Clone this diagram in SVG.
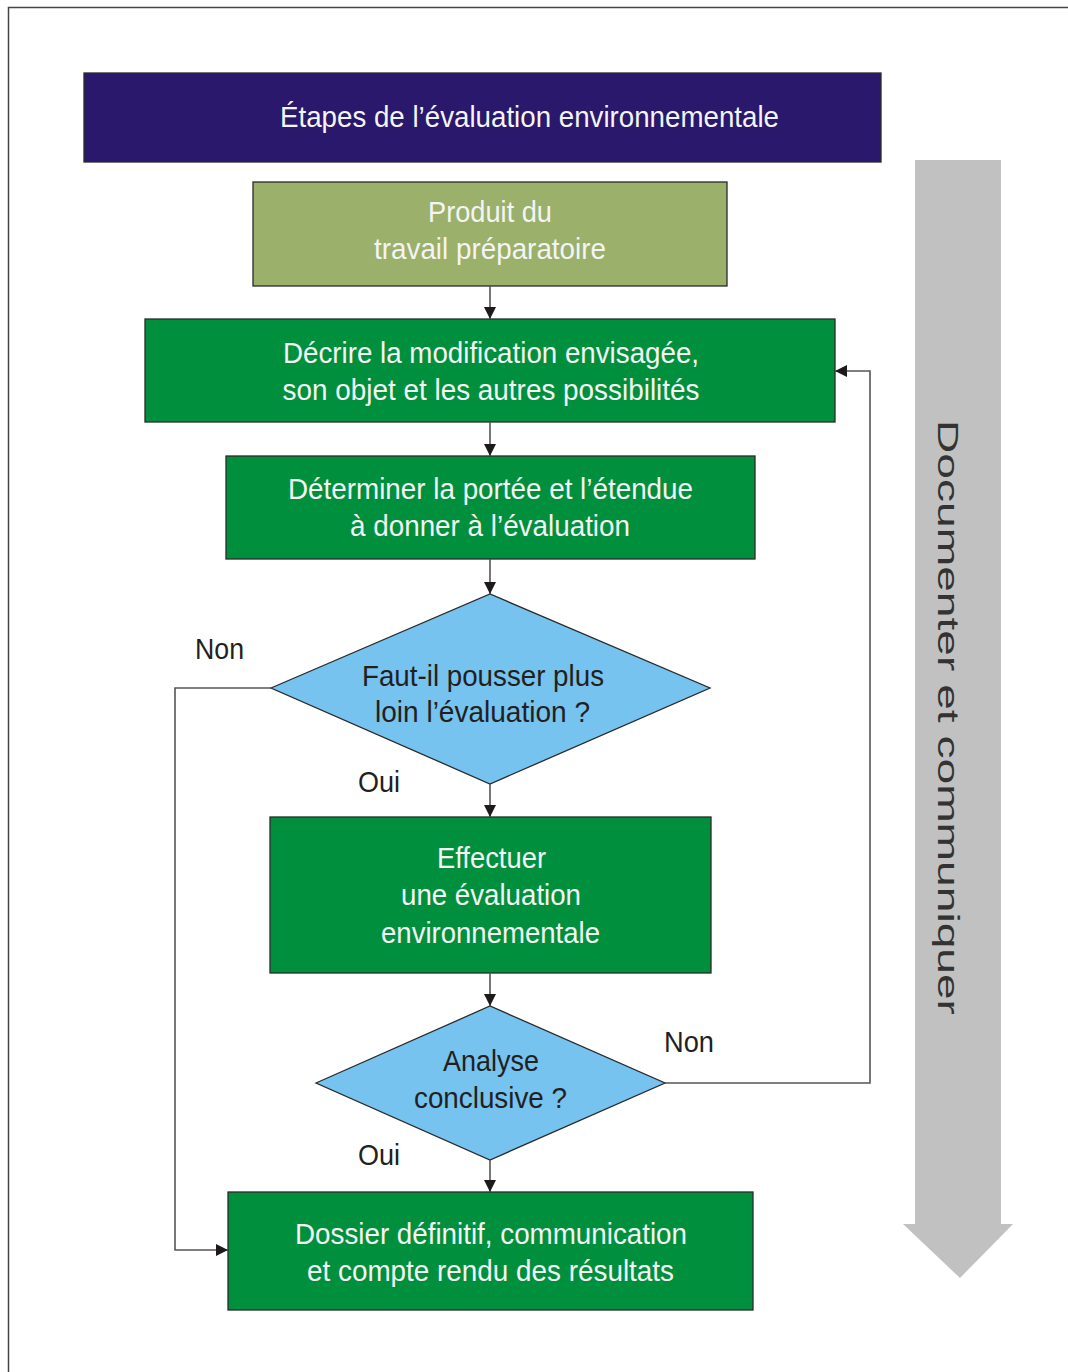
<svg xmlns="http://www.w3.org/2000/svg" width="1068" height="1372" viewBox="0 0 1068 1372">
<defs>
<marker id="ah" viewBox="0 0 12 12" refX="12" refY="6" markerWidth="12" markerHeight="12" markerUnits="userSpaceOnUse" orient="auto">
<path d="M0,0 L12,6 L0,12 Z" fill="#1e1a1a"/>
</marker>
<style>
.box{stroke:#2a2a2a;stroke-width:1.3}
.green{fill:#00903d}
.dia{fill:#75c3ee;stroke:#2a2a2a;stroke-width:1.3}
.t{font-family:"Liberation Sans",Arial,sans-serif;font-size:29px;text-anchor:middle}
.w{fill:#f4f4f4}
.d{fill:#231f20}
.conn{fill:none;stroke:#555;stroke-width:1.6}
</style>
</defs>
<rect width="1068" height="1372" fill="#fff"/>
<path d="M8.5,1372 V7.5 H1068" fill="none" stroke="#444" stroke-width="1.5"/>

<g id="arrow-doc">
<path d="M915,160 H1001 V1224 H1013 L960,1278 L903,1224 H915 Z" fill="#c1c1c1"/>
<text class="t" fill="#333" font-size="55" textLength="595" lengthAdjust="spacingAndGlyphs" transform="translate(938,717.5) rotate(90)">Documenter et communiquer</text>
</g>

<g id="title">
<rect x="84" y="73" width="797" height="89" fill="#29186b" class="box"/>
<text class="t w" x="529.5" y="127" font-size="32" textLength="499" lengthAdjust="spacingAndGlyphs">Étapes de l’évaluation environnementale</text>
</g>

<g id="produit">
<rect x="253" y="182" width="474" height="104" fill="#9bb06a" class="box"/>
<text class="t w" x="490" y="222" textLength="124" lengthAdjust="spacingAndGlyphs">Produit du</text>
<text class="t w" x="490" y="259" textLength="232" lengthAdjust="spacingAndGlyphs">travail préparatoire</text>
</g>

<g id="decrire">
<rect x="145" y="319" width="690" height="103" class="box green"/>
<text class="t w" x="491" y="363" textLength="416" lengthAdjust="spacingAndGlyphs">Décrire la modification envisagée,</text>
<text class="t w" x="491" y="400" textLength="417" lengthAdjust="spacingAndGlyphs">son objet et les autres possibilités</text>
</g>

<g id="determiner">
<rect x="226" y="456" width="529" height="103" class="box green"/>
<text class="t w" x="490.5" y="499" textLength="405" lengthAdjust="spacingAndGlyphs">Déterminer la portée et l’étendue</text>
<text class="t w" x="490" y="536" textLength="280" lengthAdjust="spacingAndGlyphs">à donner à l’évaluation</text>
</g>

<g id="decision1">
<polygon points="271,688 490,594 710,688 490,784" class="dia"/>
<text class="t d" x="483" y="686" font-size="30" textLength="242" lengthAdjust="spacingAndGlyphs">Faut-il pousser plus</text>
<text class="t d" x="482.5" y="722" font-size="30" textLength="215" lengthAdjust="spacingAndGlyphs">loin l’évaluation ?</text>
</g>

<g id="effectuer">
<rect x="270" y="817" width="441" height="156" class="box green"/>
<text class="t w" x="491.5" y="868" textLength="109" lengthAdjust="spacingAndGlyphs">Effectuer</text>
<text class="t w" x="491" y="905" textLength="180" lengthAdjust="spacingAndGlyphs">une évaluation</text>
<text class="t w" x="490.5" y="943" textLength="219" lengthAdjust="spacingAndGlyphs">environnementale</text>
</g>

<g id="decision2">
<polygon points="316,1083 490,1006 665,1083 490,1160" class="dia"/>
<text class="t d" x="491" y="1071" font-size="30" textLength="96" lengthAdjust="spacingAndGlyphs">Analyse</text>
<text class="t d" x="490.5" y="1108" font-size="30" textLength="153" lengthAdjust="spacingAndGlyphs">conclusive ?</text>
</g>

<g id="dossier">
<rect x="228" y="1192" width="525" height="118" class="box green"/>
<text class="t w" x="491" y="1244" textLength="392" lengthAdjust="spacingAndGlyphs">Dossier définitif, communication</text>
<text class="t w" x="490.5" y="1281" textLength="367" lengthAdjust="spacingAndGlyphs">et compte rendu des résultats</text>
</g>

<g id="connectors">
<line x1="490" y1="286" x2="490" y2="319" class="conn" marker-end="url(#ah)"/>
<line x1="490" y1="422" x2="490" y2="456" class="conn" marker-end="url(#ah)"/>
<line x1="490" y1="559" x2="490" y2="594" class="conn" marker-end="url(#ah)"/>
<line x1="490" y1="784" x2="490" y2="817" class="conn" marker-end="url(#ah)"/>
<line x1="490" y1="973" x2="490" y2="1006" class="conn" marker-end="url(#ah)"/>
<line x1="490" y1="1160" x2="490" y2="1192" class="conn" marker-end="url(#ah)"/>
<polyline points="271,688 175,688 175,1250 228,1250" class="conn" marker-end="url(#ah)"/>
<polyline points="665,1083 870,1083 870,371 835,371" class="conn" marker-end="url(#ah)"/>
<text class="t d" x="219.5" y="659" font-size="28" textLength="49" lengthAdjust="spacingAndGlyphs">Non</text>
<text class="t d" x="379" y="792" font-size="28" textLength="42" lengthAdjust="spacingAndGlyphs">Oui</text>
<text class="t d" x="689" y="1052" font-size="28" textLength="50" lengthAdjust="spacingAndGlyphs">Non</text>
<text class="t d" x="379" y="1165" font-size="28" textLength="42" lengthAdjust="spacingAndGlyphs">Oui</text>
</g>
</svg>
